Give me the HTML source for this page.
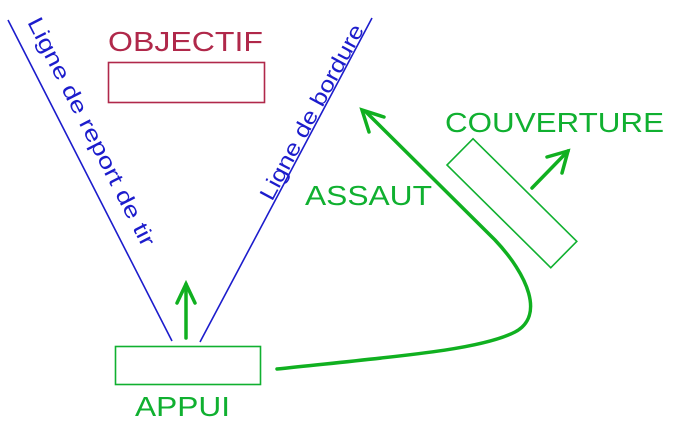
<!DOCTYPE html>
<html><head><meta charset="utf-8"><style>html,body{margin:0;padding:0;background:#fff}svg{display:block}</style></head>
<body>
<svg width="683" height="438" viewBox="0 0 683 438" xmlns="http://www.w3.org/2000/svg" font-family="Liberation Sans, Arial, sans-serif">
<line x1="8" y1="20" x2="172" y2="341" stroke="#1c1ccc" stroke-width="1.6"/>
<line x1="372" y1="18" x2="200" y2="342" stroke="#1c1ccc" stroke-width="1.6"/>
<text font-size="22" fill="#1c1ccc" transform="translate(27,22) rotate(62.9)" textLength="254" lengthAdjust="spacingAndGlyphs">Ligne de report de tir</text>
<text font-size="22" fill="#1c1ccc" transform="translate(272,202) rotate(-61.8)" textLength="196" lengthAdjust="spacingAndGlyphs">Ligne de bordure</text>
<text x="108" y="51" font-size="28" fill="#b0284a" textLength="155" lengthAdjust="spacingAndGlyphs">OBJECTIF</text>
<rect x="108.5" y="62.5" width="156" height="40" fill="none" stroke="#b0284a" stroke-width="1.6"/>
<rect x="115.5" y="346.5" width="145" height="38" fill="none" stroke="#10b030" stroke-width="1.6"/>
<text x="135" y="416" font-size="28" fill="#10b030" textLength="95" lengthAdjust="spacingAndGlyphs">APPUI</text>
<g stroke="#10b020" stroke-width="3.5" fill="none" stroke-linecap="round">
<line x1="186" y1="338" x2="186" y2="284"/>
<polyline points="177,303 186,284 195,303"/>
<path d="M277,369 C400,356 480,350 515,332 C545,316 528,275 495,240 L366,112"/>
<polyline points="369,132 362,110 384,117"/>
<line x1="532" y1="188" x2="568" y2="151"/>
<polyline points="547,157 568,151 562,173"/>
</g>
<g transform="translate(447,165) rotate(44.7)">
<rect x="0" y="-37" width="146" height="37" fill="none" stroke="#10b030" stroke-width="1.6" transform="rotate(0)"/>
</g>
<text x="305" y="205" font-size="28" fill="#10b030" textLength="127" lengthAdjust="spacingAndGlyphs">ASSAUT</text>
<text x="445" y="132" font-size="28" fill="#10b030" textLength="219" lengthAdjust="spacingAndGlyphs">COUVERTURE</text>
</svg>
</body></html>
